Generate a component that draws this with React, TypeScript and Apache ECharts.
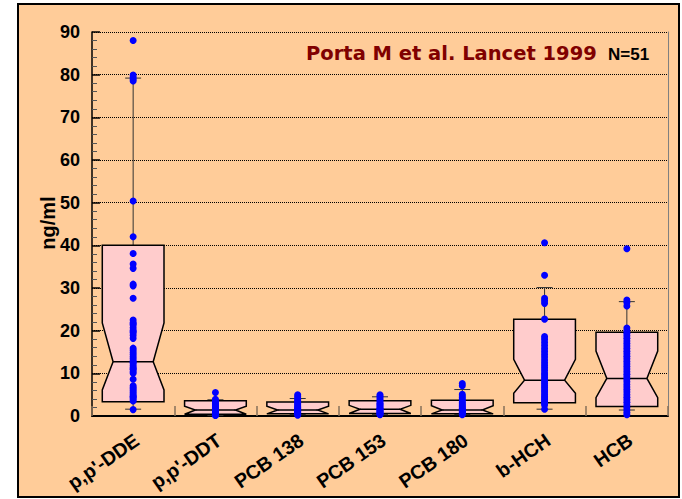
import React, { useEffect, useRef } from "react";
import * as echarts from "echarts";

// ---- data ----
const categories = ["p,p'-DDE", "p,p'-DDT", "PCB 138", "PCB 153", "PCB 180", "b-HCH", "HCB"];
const yTicks = [0, 10, 20, 30, 40, 50, 60, 70, 80, 90];

const q1 = [3.35, 0.4, 0.5, 0.6, 0.5, 3.1, 2.2];
const notchLow = [6.1, 0.4, 0.5, 0.6, 0.5, 5.3, 4.3];
const median = [12.7, 1.4, 1.4, 1.6, 1.4, 8.4, 8.8];
const notchHigh = [21.8, 2.3, 2.3, 2.5, 2.4, 13.3, 15.2];
const q3 = [40.0, 3.6, 3.3, 3.6, 3.7, 22.7, 19.6];
const whiskerLow = [1.6, 0.1, 0.3, 0.3, 0.3, 1.6, 1.4];
const whiskerHigh = [79.2, 3.8, 4.1, 4.5, 6.2, 30.1, 26.8];

const ddePoints = [88.0, 79.9, 79.4, 78.9, 78.5, 50.4, 42.0, 38.1, 35.6, 34.6, 30.9, 30.5, 27.6, 22.5, 21.9, 21.6, 21.3, 20.7, 20.1, 19.8, 19.5, 18.9, 18.2, 15.9, 15.4, 14.9, 14.4, 13.9, 13.4, 12.9, 12.6, 12.4, 11.9, 11.4, 11.1, 10.9, 10.4, 10.0, 8.6, 7.1, 6.7, 6.3, 5.9, 5.5, 5.1, 4.7, 4.5, 4.3, 3.9, 3.5, 1.5];
const ddtPoints = [5.5, 3.9, 3.6, 3.3, 3.0, 2.8, 2.6, 2.4, 2.2, 2.0, 1.9, 1.8, 1.7, 1.6, 1.5, 1.4, 1.3, 1.2, 1.1, 1.0, 0.9, 0.8, 0.7, 0.6, 0.5, 0.4, 0.3, 0.2, 0.1];
const pcb138Points = [5.0, 4.6, 4.2, 3.8, 3.5, 3.2, 2.9, 2.6, 2.3, 2.0, 1.8, 1.6, 1.4, 1.2, 1.0, 0.8, 0.6, 0.4, 0.2];
const pcb153Points = [5.0, 4.6, 4.2, 3.8, 3.4, 3.0, 2.7, 2.4, 2.1, 1.8, 1.6, 1.4, 1.2, 1.0, 0.8, 0.6, 0.4, 0.3];
const pcb180Points = [7.6, 7.1, 5.1, 4.7, 4.3, 3.9, 3.5, 3.1, 2.8, 2.5, 2.2, 1.9, 1.7, 1.5, 1.3, 1.1, 0.9, 0.7, 0.5, 0.3];
const bhchPoints = [40.6, 33.0, 27.6, 27.0, 26.4, 22.7, 18.6, 18.0, 17.3, 16.6, 15.9, 15.2, 14.5, 13.8, 13.1, 12.5, 11.9, 11.3, 10.7, 10.1, 9.6, 9.1, 8.6, 8.1, 7.6, 7.1, 6.6, 6.1, 5.6, 5.1, 4.6, 4.2, 3.8, 3.4, 3.0, 2.6, 1.6];
const hcbPoints = [39.2, 27.2, 26.6, 25.8, 20.6, 20.0, 19.4, 18.8, 18.2, 17.6, 17.0, 16.4, 15.8, 15.2, 14.6, 14.0, 13.4, 12.8, 12.2, 11.6, 11.0, 10.4, 9.8, 9.2, 8.6, 8.0, 7.4, 6.8, 6.2, 5.6, 5.0, 4.4, 3.8, 3.2, 2.6, 2.0, 1.4, 0.8, 0.3];
const pointSeries = [ddePoints, ddtPoints, pcb138Points, pcb153Points, pcb180Points, bhchPoints, hcbPoints];

const titleText = "Porta M et al. Lancet 1999";
const nText = "N=51";
const yName = "ng/ml";

const ARIAL = '"Liberation Sans", Arial, sans-serif';
const CHART_H = 560;

export default function App() {
  const ref = useRef<HTMLDivElement>(null);

  useEffect(() => {
    if (!ref.current) return;
    const chart = echarts.init(ref.current, null, { renderer: "svg" });

    const boxData = categories.map((_, i) => [
      i, q1[i], notchLow[i], median[i], notchHigh[i], q3[i], whiskerLow[i], whiskerHigh[i],
    ]);
    const pointData: number[][] = [];
    pointSeries.forEach((arr, i) => arr.forEach((v) => pointData.push([i, v])));

    chart.setOption({
      animation: false,
      backgroundColor: "transparent",
      grid: { left: 92, top: 32, right: 14, bottom: CHART_H - 416, containLabel: false, outerBoundsMode: "none" },
      xAxis: {
        type: "category",
        data: categories,
        boundaryGap: true,
        axisLine: { show: true, lineStyle: { color: "#000", width: 2 } },
        axisTick: { show: true, inside: true, length: 10, lineStyle: { color: "#86705a", width: 1.5 } },
        axisLabel: {
          interval: 0,
          rotate: 35,
          margin: 17,
          align: "right",
          verticalAlign: "top",
          lineHeight: 12,
          overflow: "none",
          fontFamily: ARIAL,
          fontWeight: "bold",
          fontSize: 19.5,
          color: "#000",
        },
        splitLine: { show: false },
      },
      yAxis: [
        {
          type: "value",
          min: yTicks[0],
          max: yTicks[yTicks.length - 1],
          interval: 10,
          axisLine: { show: true, lineStyle: { color: "#000", width: 1.5 } },
          axisTick: { show: true, inside: true, length: 8, lineStyle: { color: "#000", width: 1.5 } },
          minorTick: { show: true, splitNumber: 5, length: 5, lineStyle: { color: "#555", width: 1 } },
          axisLabel: { margin: 12, fontFamily: ARIAL, fontWeight: "bold", fontSize: 18, color: "#000" },
          splitLine: { show: true, lineStyle: { color: "#000", width: 1, type: [1, 1] } },
        },
        {
          type: "value",
          position: "right",
          min: yTicks[0],
          max: yTicks[yTicks.length - 1],
          interval: 10,
          axisLine: { show: true, lineStyle: { color: "#808080", width: 1 } },
          axisTick: { show: false },
          axisLabel: { show: false },
          splitLine: { show: false },
        },
      ],
      series: [
        {
          type: "custom",
          data: boxData,
          encode: { x: 0, y: [1, 2, 3, 4, 5, 6, 7] },
          z: 2,
          renderItem: (params: any, api: any) => {
            const xv = api.value(0);
            const yy = (k: number) => api.coord([xv, api.value(k)])[1];
            const cx = api.coord([xv, 0])[0];
            const w = api.size([1, 0])[0] * 0.75;
            const L = cx - w / 2;
            const R = cx + w / 2;
            const inset = w * 0.175;
            const yq1 = yy(1), ynl = yy(2), ym = yy(3), ynh = yy(4), yq3 = yy(5), ywl = yy(6), ywh = yy(7);
            const cap = 8;
            const wStyle = { stroke: "#333", lineWidth: 1 };
            return {
              type: "group",
              children: [
                { type: "line", shape: { x1: cx, y1: ywh, x2: cx, y2: yq3 }, style: wStyle },
                { type: "line", shape: { x1: cx, y1: yq1, x2: cx, y2: ywl }, style: wStyle },
                { type: "line", shape: { x1: cx - cap, y1: ywh, x2: cx + cap, y2: ywh }, style: wStyle },
                { type: "line", shape: { x1: cx - cap, y1: ywl, x2: cx + cap, y2: ywl }, style: wStyle },
                {
                  type: "polygon",
                  shape: {
                    points: [
                      [L, yq3], [R, yq3], [R, ynh], [R - inset, ym], [R, ynl], [R, yq1],
                      [L, yq1], [L, ynl], [L + inset, ym], [L, ynh],
                    ],
                  },
                  style: { fill: "#FFCCCC", stroke: "#000", lineWidth: 1.5 },
                },
                { type: "line", shape: { x1: L + inset, y1: ym, x2: R - inset, y2: ym }, style: { stroke: "#000", lineWidth: 1.5 } },
              ],
            };
          },
        },
        {
          type: "scatter",
          data: pointData,
          symbol: "circle",
          symbolSize: 7,
          z: 3,
          itemStyle: { color: "#0000ff", opacity: 1 },
        },
      ],
      graphic: [
        {
          type: "text",
          x: 306,
          y: 53,
          style: {
            text: titleText,
            fill: "#800000",
            fontFamily: '"DejaVu Sans", Verdana, sans-serif',
            fontWeight: "bold",
            fontSize: 19.5,
            align: "left",
            verticalAlign: "middle",
          },
        },
        {
          type: "text",
          x: 608,
          y: 54,
          style: {
            text: nText,
            fill: "#000",
            fontFamily: ARIAL,
            fontWeight: "bold",
            fontSize: 17,
            align: "left",
            verticalAlign: "middle",
          },
        },
        {
          type: "text",
          x: 47.5,
          y: 223,
          rotation: Math.PI / 2,
          style: {
            text: yName,
            fill: "#000",
            fontFamily: ARIAL,
            fontWeight: "bold",
            fontSize: 20,
            align: "center",
            verticalAlign: "middle",
          },
        },
      ],
    });

    return () => chart.dispose();
  }, []);

  return (
    <div style={{ position: "fixed", left: 0, top: 0, width: 682, height: 499, background: "#fff", overflow: "hidden" }}>
      <div
        style={{
          position: "absolute",
          left: 17,
          top: 3,
          width: 663,
          height: 495,
          boxSizing: "border-box",
          border: "2px solid #000",
          background: "#FFCC99",
        }}
      />
      <div ref={ref} style={{ position: "absolute", left: 0, top: 0, width: 682, height: CHART_H }} />
    </div>
  );
}
